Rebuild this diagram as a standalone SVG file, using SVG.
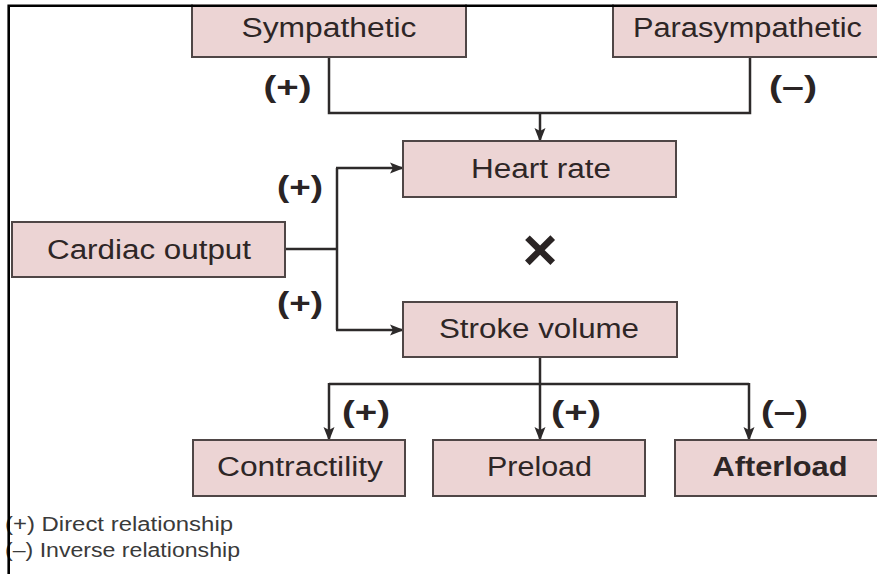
<svg xmlns="http://www.w3.org/2000/svg" width="877" height="574" viewBox="0 0 877 574">
<defs>
<style>
.box{fill:#ecd4d4;stroke:#4f4646;stroke-width:2}
.lbl{font-family:"Liberation Sans",Arial,sans-serif;font-size:27px;fill:#2e2626;text-anchor:middle}
.sign{font-family:"Liberation Sans",Arial,sans-serif;font-size:29px;font-weight:bold;fill:#2a2424;text-anchor:middle}
.times{font-family:"Liberation Sans",Arial,sans-serif;font-size:60px;font-weight:bold;fill:#2a2424;text-anchor:middle}
.leg{font-family:"Liberation Sans",Arial,sans-serif;font-size:20px;fill:#3a3a3a}
.con{fill:none;stroke:#2d2a2a;stroke-width:2.5}
</style>
<marker id="arr" markerUnits="userSpaceOnUse" markerWidth="14" markerHeight="12" viewBox="0 0 14 12" refX="13" refY="6" orient="auto">
<path d="M0,0.5 L14,6 L0,11.5 L3,6 Z" fill="#2d2a2a"/>
</marker>
</defs>
<rect width="877" height="574" fill="#ffffff"/>

<g id="connectors">
<path class="con" d="M329,57 V113 H750 V57"/>
<path class="con" d="M540,113 V141" marker-end="url(#arr)"/>
<path class="con" d="M285,249 H337"/>
<path class="con" d="M337,168 V330"/>
<path class="con" d="M336,168 H403" marker-end="url(#arr)"/>
<path class="con" d="M336,330 H403" marker-end="url(#arr)"/>
<path class="con" d="M540,357 V384"/>
<path class="con" d="M329,384 H749"/>
<path class="con" d="M329,383 V440" marker-end="url(#arr)"/>
<path class="con" d="M540,383 V440" marker-end="url(#arr)"/>
<path class="con" d="M749,383 V440" marker-end="url(#arr)"/>
</g>

<g id="sympathetic">
<rect class="box" x="192" y="-5" width="274" height="62"/>
<text class="lbl" x="329" y="37" textLength="175" lengthAdjust="spacingAndGlyphs">Sympathetic</text>
</g>
<g id="parasympathetic">
<rect class="box" x="613" y="-5" width="280" height="62"/>
<text class="lbl" x="747.5" y="37" textLength="229" lengthAdjust="spacingAndGlyphs">Parasympathetic</text>
</g>
<g id="heart-rate">
<rect class="box" x="403" y="141" width="273" height="56"/>
<text class="lbl" x="541" y="178" textLength="140" lengthAdjust="spacingAndGlyphs">Heart rate</text>
</g>
<g id="cardiac-output">
<rect class="box" x="12" y="222" width="273" height="55"/>
<text class="lbl" x="149" y="259" textLength="204" lengthAdjust="spacingAndGlyphs">Cardiac output</text>
</g>
<g id="stroke-volume">
<rect class="box" x="403" y="302" width="274" height="55"/>
<text class="lbl" x="539" y="338" textLength="200" lengthAdjust="spacingAndGlyphs">Stroke volume</text>
</g>
<g id="contractility">
<rect class="box" x="193" y="440" width="212" height="56"/>
<text class="lbl" x="300" y="476" textLength="166" lengthAdjust="spacingAndGlyphs">Contractility</text>
</g>
<g id="preload">
<rect class="box" x="433" y="440" width="212" height="56"/>
<text class="lbl" x="539.5" y="476" textLength="105" lengthAdjust="spacingAndGlyphs">Preload</text>
</g>
<g id="afterload">
<rect class="box" x="675" y="440" width="220" height="56"/>
<text class="lbl" x="780" y="476" font-weight="bold" textLength="135" lengthAdjust="spacingAndGlyphs">Afterload</text>
</g>

<g id="signs">
<text class="sign" x="287.5" y="97" textLength="48" lengthAdjust="spacingAndGlyphs">(+)</text>
<text class="sign" x="793" y="97" textLength="48" lengthAdjust="spacingAndGlyphs">(–)</text>
<text class="sign" x="300" y="197" textLength="46" lengthAdjust="spacingAndGlyphs">(+)</text>
<text class="sign" x="300" y="313" textLength="46" lengthAdjust="spacingAndGlyphs">(+)</text>
<text class="sign" x="366" y="422" textLength="48" lengthAdjust="spacingAndGlyphs">(+)</text>
<text class="sign" x="576" y="422" textLength="50" lengthAdjust="spacingAndGlyphs">(+)</text>
<text class="sign" x="784.5" y="422" textLength="47" lengthAdjust="spacingAndGlyphs">(–)</text>
<text class="times" x="540" y="270">×</text>
</g>

<g id="legend">
<text class="leg" x="5" y="531" textLength="228" lengthAdjust="spacingAndGlyphs">(+) Direct relationship</text>
<text class="leg" x="5" y="557" textLength="235" lengthAdjust="spacingAndGlyphs">(–) Inverse relationship</text>
</g>

<g id="frame">
<rect x="0" y="0" width="877" height="4.5" fill="#ffffff"/>
<path d="M8.7,574 V5.8 H877" fill="none" stroke="#000000" stroke-width="2.6"/>
</g>
</svg>
